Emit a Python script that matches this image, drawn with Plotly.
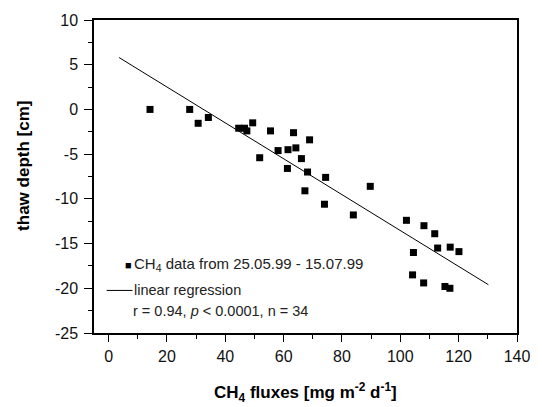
import plotly.graph_objects as go

flux = [14.2, 27.8, 30.7, 34.2, 44.6, 46.6, 47.4, 49.4, 51.8, 55.5,
        58.1, 61.5, 61.3, 63.4, 64.2, 66.1, 67.3, 68.2, 68.9, 74.4,
        74.0, 83.9, 89.7, 102.1, 104.5, 104.2, 108.1, 108.0, 111.8, 112.8,
        117.1, 120.1, 115.3, 117.0]
thaw = [0.0, 0.0, -1.55, -0.9, -2.1, -2.1, -2.4, -1.5, -5.4, -2.4,
        -4.6, -4.5, -6.6, -2.6, -4.3, -5.5, -9.1, -7.0, -3.4, -7.6,
        -10.6, -11.8, -8.6, -12.4, -16.0, -18.5, -13.0, -19.4, -13.9, -15.5,
        -15.4, -15.9, -19.8, -20.0]
reg_x = [3.6, 130.2]
reg_y = [5.8, -19.6]

x_ticks = [0, 20, 40, 60, 80, 100, 120, 140]
y_ticks = [10, 5, 0, -5, -10, -15, -20, -25]

FONT = "Liberation Sans, Arial, Helvetica, sans-serif"

fig = go.Figure()
fig.add_trace(go.Scatter(x=flux, y=thaw, mode="markers",
                         marker=dict(symbol="square", size=7, color="black"),
                         showlegend=False))
fig.add_trace(go.Scatter(x=reg_x, y=reg_y, mode="lines",
                         line=dict(color="black", width=1), showlegend=False))

fig.update_layout(
    width=542, height=407,
    margin=dict(l=94, r=16, t=16, b=74),
    paper_bgcolor="white", plot_bgcolor="white",
    font=dict(family=FONT, color="black", size=14),
    xaxis=dict(range=[-5, 140], tickvals=x_ticks, ticktext=[str(v) for v in x_ticks],
               ticks="outside", ticklen=7, tickwidth=1, tickcolor="black",
               minor=dict(dtick=10, tick0=0, ticks="outside", ticklen=4, tickcolor="black"),
               showline=True, linecolor="black", linewidth=1.5, mirror=True,
               showgrid=False, zeroline=False, tickfont=dict(size=16, color="#111"),
               ticklabelstandoff=1),
    yaxis=dict(range=[-25, 10], tickvals=y_ticks, ticktext=[str(v) for v in y_ticks],
               ticks="outside", ticklen=8, tickwidth=1, tickcolor="black",
               minor=dict(dtick=2.5, tick0=0, ticks="outside", ticklen=4, tickcolor="black"),
               showline=True, linecolor="black", linewidth=1.5, mirror=True,
               showgrid=False, zeroline=False, tickfont=dict(size=16, color="#111"),
               ticklabelstandoff=3),
)

# axis titles
fig.add_annotation(text="<b>CH<sub>4</sub> fluxes [mg m<sup>-2</sup> d<sup>-1</sup>]</b>",
                   xref="paper", yref="paper", x=0.5, y=-0.19, xanchor="center", yanchor="middle",
                   showarrow=False, font=dict(size=17))
fig.add_annotation(text="<b>thaw depth [cm]</b>", textangle=-90,
                   xref="paper", yref="paper", x=-0.167, y=0.535, xanchor="center", yanchor="middle",
                   showarrow=False, font=dict(size=17))

# legend-like annotations
fig.add_annotation(text="■", xref="paper", yref="paper", x=0.081, y=0.216,
                   xanchor="center", yanchor="middle", showarrow=False, font=dict(size=11))
fig.add_annotation(text="CH<sub>4</sub> data from 25.05.99 - 15.07.99", xref="paper", yref="paper",
                   x=0.091, y=0.218, xanchor="left", yanchor="middle", showarrow=False,
                   font=dict(size=15, color="#222"))
fig.add_shape(type="line", xref="paper", yref="paper", x0=0.030, x1=0.091, y0=0.136, y1=0.136,
              line=dict(color="black", width=1))
fig.add_annotation(text="linear regression", xref="paper", yref="paper",
                   x=0.091, y=0.138, xanchor="left", yanchor="middle", showarrow=False,
                   font=dict(size=14.5, color="#222"))
fig.add_annotation(text="r = 0.94, <i>p</i> < 0.0001, n = 34", xref="paper", yref="paper",
                   x=0.087, y=0.070, xanchor="left", yanchor="middle", showarrow=False,
                   font=dict(size=14.5, color="#222"))

fig.write_html("out.html", config={"displayModeBar": False},
               post_script=["document.body.style.margin='0';"])
